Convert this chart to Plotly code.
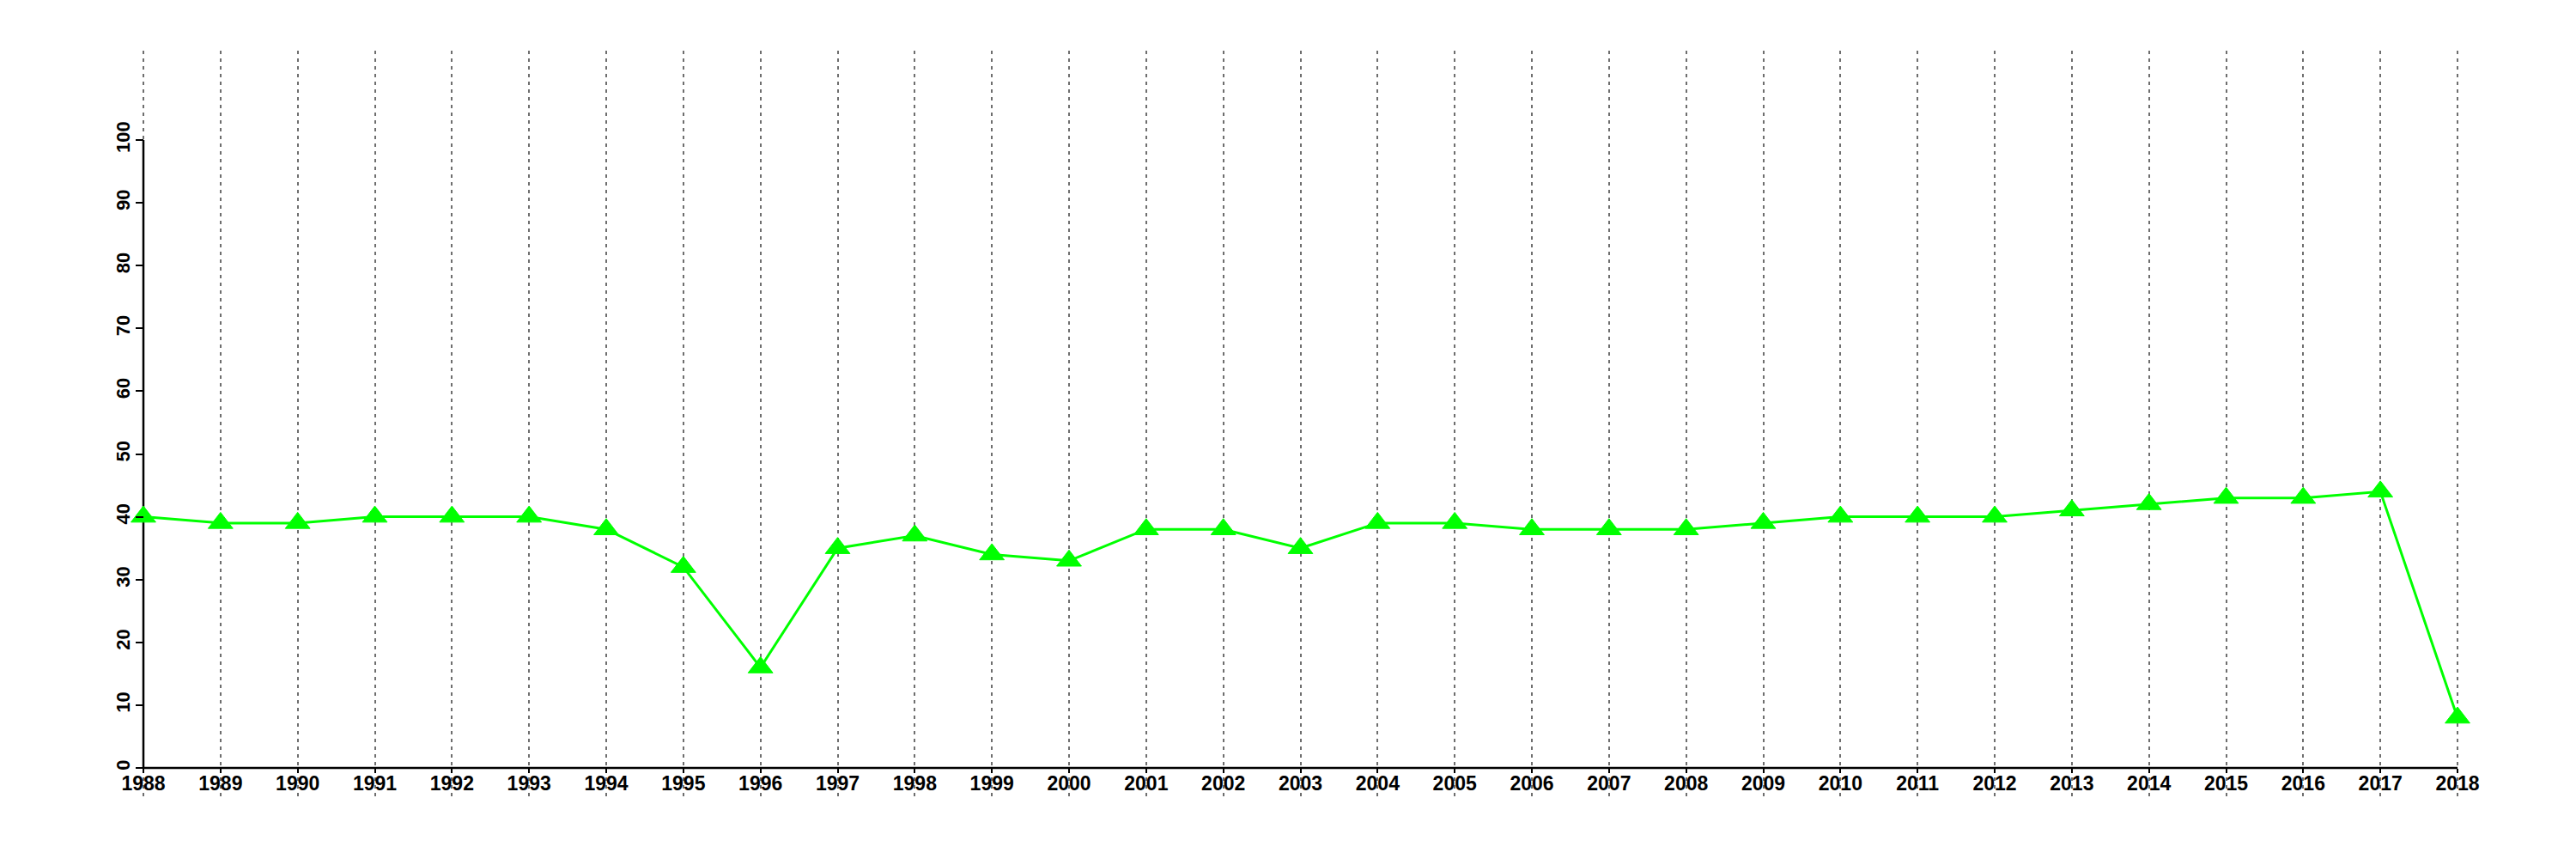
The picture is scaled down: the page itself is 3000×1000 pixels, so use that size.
import plotly.graph_objects as go

# ---- data ----
years = list(range(1988, 2019))
values = [40, 39, 39, 40, 40, 40, 38, 32, 16, 35, 37, 34, 33, 38, 38, 35,
          39, 39, 38, 38, 38, 39, 40, 40, 40, 41, 42, 43, 43, 44, 8]
y_ticks = [0, 10, 20, 30, 40, 50, 60, 70, 80, 90, 100]

# ---- layout geometry (page body has an 8px margin) ----
W, H = 3000, 1000
OFF = 8
ml, mr, mt, mb = 147 - OFF, 118 + OFF, 59 - OFF, 73 + OFF
px_per_year = (2862 - 167) / 30.0
px_per_unit = (894 - 163) / 100.0
x0, x1 = years[0], years[-1]
xmin = x0 - (167 - 147) / px_per_year
xmax = x1 + ((W - 118) - 2862) / px_per_year
ymin = -((H - 73) - 894) / px_per_unit
ymax = y_ticks[-1] + (163 - 59) / px_per_unit

xfont = dict(family="Liberation Sans, Arial, sans-serif", size=23, color="black", weight=700)
yfont = dict(family="Liberation Sans, Arial, sans-serif", size=22, color="black", weight=700)

fig = go.Figure()
fig.add_trace(go.Scatter(
    x=years, y=values, mode="lines+markers",
    line=dict(color="#00FF00", width=3),
    marker=dict(symbol="triangle-up", size=25, color="#00FF00",
                line=dict(color="#00FF00", width=1)),
    cliponaxis=False, showlegend=False,
))

# axis lines (only over the data extent)
fig.add_shape(type="line", xref="x", yref="y", x0=x0, x1=x1, y0=0, y1=0,
              line=dict(color="black", width=2.5), layer="between")
fig.add_shape(type="line", xref="x", yref="y", x0=x0, x1=x0, y0=y_ticks[0], y1=y_ticks[-1],
              line=dict(color="black", width=2.5), layer="between")

fig.update_layout(
    width=W, height=H,
    margin=dict(l=ml, r=mr, t=mt, b=mb),
    paper_bgcolor="white", plot_bgcolor="white",
    xaxis=dict(
        range=[xmin, xmax], anchor="free", position=(0 - ymin) / (ymax - ymin),
        tickvals=years, ticktext=[str(y) for y in years],
        showline=False, zeroline=False,
        showgrid=True, gridcolor="#6e6e6e", gridwidth=2, griddash="4px,5px",
        ticks="outside", ticklen=5, tickwidth=2, tickcolor="black",
        ticklabelstandoff=-8,
        tickfont=xfont,
    ),
    yaxis=dict(
        range=[ymin, ymax], anchor="free", position=(x0 - xmin) / (xmax - xmin),
        tickvals=y_ticks, ticktext=[str(v) for v in y_ticks],
        showline=False, zeroline=False, showgrid=False,
        ticks="outside", ticklen=9, tickwidth=2, tickcolor="black",
        tickangle=-90, tickfont=yfont, ticklabelstandoff=-2,
    ),
)

fig.write_html("out.html")
